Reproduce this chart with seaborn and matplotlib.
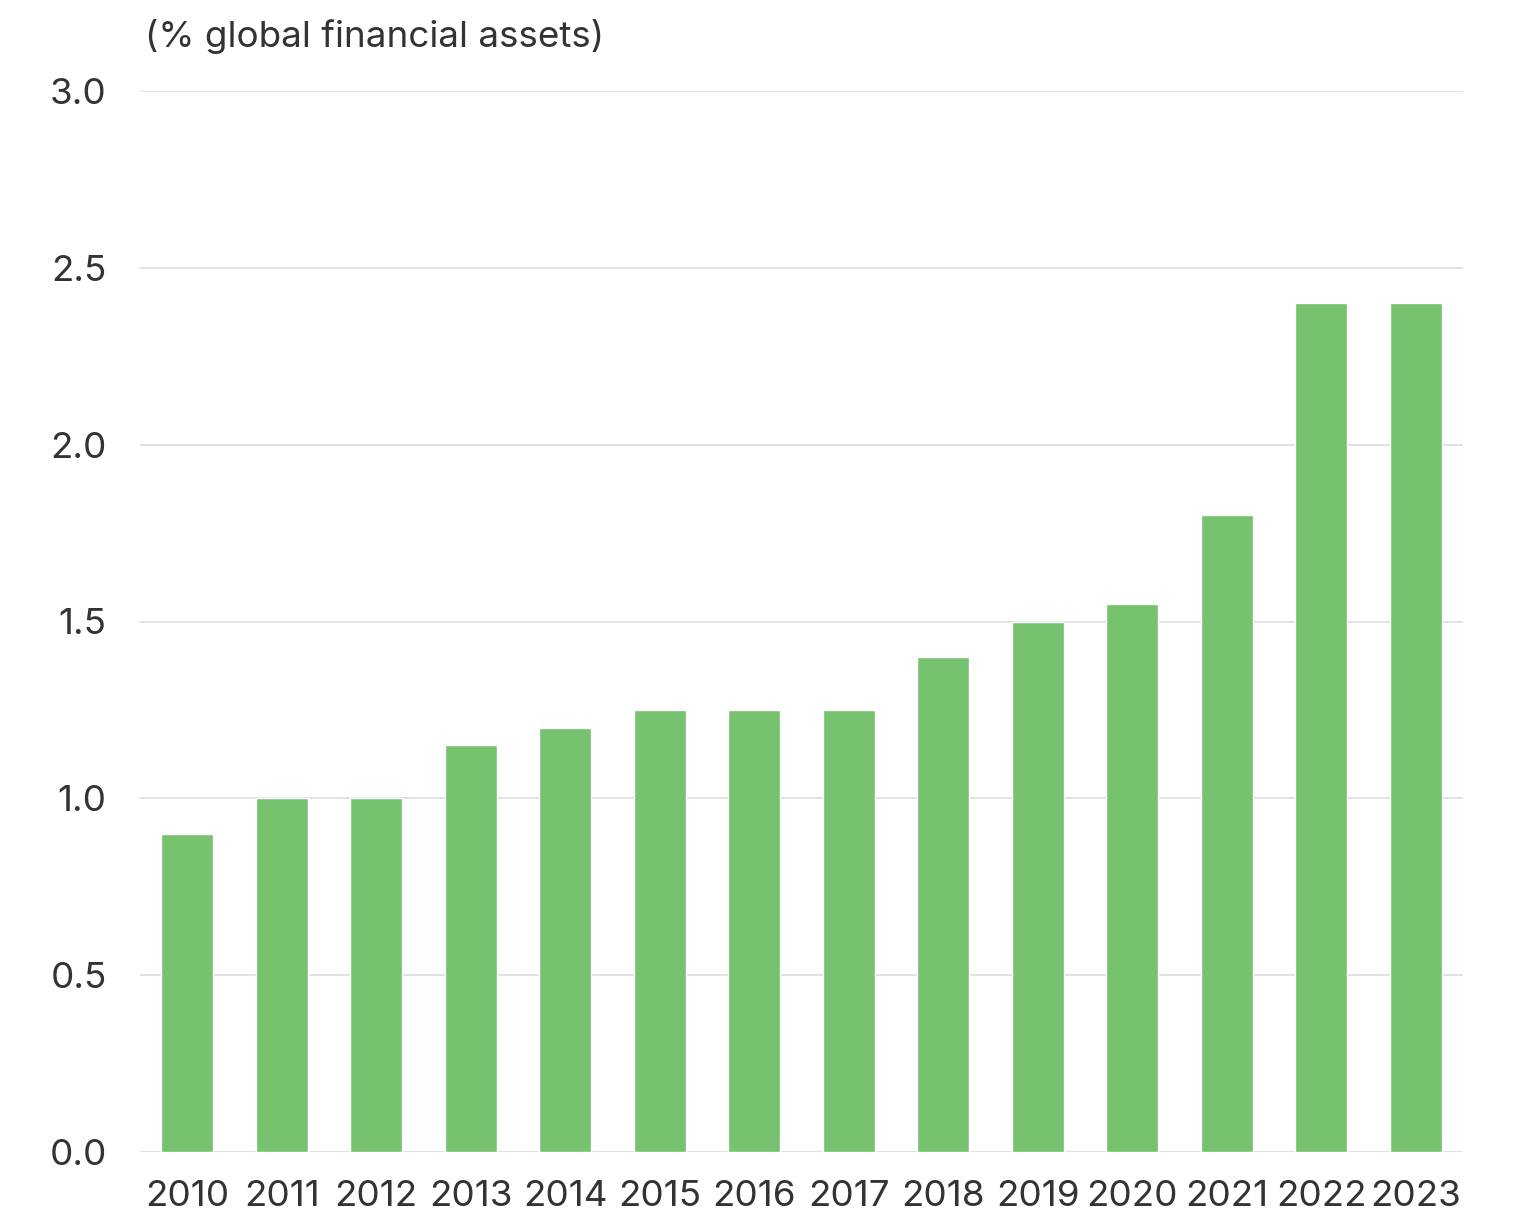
import matplotlib
matplotlib.use("Agg")
import matplotlib.pyplot as plt
import seaborn as sns
import pandas as pd

years = ["2010", "2011", "2012", "2013", "2014", "2015", "2016", "2017",
         "2018", "2019", "2020", "2021", "2022", "2023"]
values = [0.9, 1.0, 1.0, 1.15, 1.2, 1.25, 1.25, 1.25, 1.4, 1.5, 1.55, 1.8, 2.4, 2.4]
yticks = [0.0, 0.5, 1.0, 1.5, 2.0, 2.5, 3.0]
unit_label = "(% global financial assets)"

sns.set_theme(style="white")
plt.rcParams['font.family'] = ['Inter', 'DejaVu Sans']

df = pd.DataFrame({"year": years, "value": values})

fig = plt.figure(figsize=(15.23, 12.15), dpi=100)
ax = fig.add_axes([140/1523, 1 - 1152/1215, (1463-140)/1523, (1152-91)/1215])

sns.barplot(data=df, x="year", y="value", color="#76C26E", saturation=1,
            width=0.55, edgecolor="white", linewidth=1, ax=ax, zorder=3)

ax.set_ylim(0, 3.0)
ax.set_xlim(-0.5, len(years) - 0.5)
ax.set_yticks(yticks)
ax.set_yticklabels([f"{t:.1f}" for t in yticks])
ax.yaxis.grid(True, color="#dddddd", linewidth=1.2, zorder=0)
ax.set_axisbelow(True)
for s in ax.spines.values():
    s.set_visible(False)
ax.set_xlabel("")
ax.set_ylabel("")
ax.tick_params(axis="y", length=0, pad=24, labelsize=26.5, labelcolor="#333333")
ax.tick_params(axis="x", length=0, pad=20, labelsize=26.5, labelcolor="#333333")

fig.text(145/1523, 1 - 36/1215, unit_label, fontsize=26.5, color="#333333",
         ha="left", va="center")

fig.savefig("out.png", dpi=100)
